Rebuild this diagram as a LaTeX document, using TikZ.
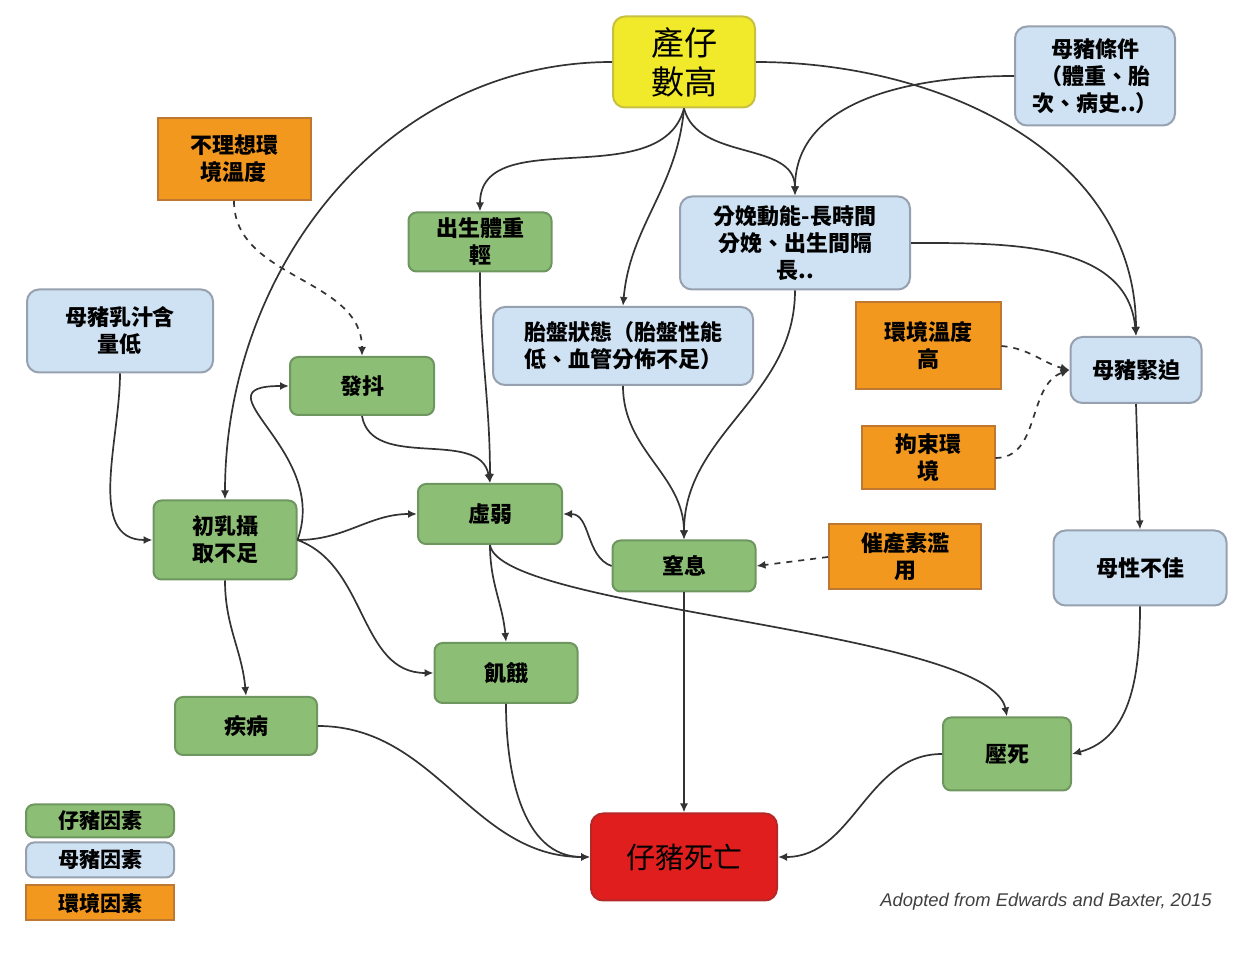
\documentclass[tikz,border=0pt]{standalone}
\usepackage{fontspec}
\newfontfamily\cjk{Noto Sans CJK TC}
\newfontfamily\creditfont{Liberation Sans}
\usetikzlibrary{arrows.meta}

\definecolor{pigfill}{HTML}{8DBE76}
\definecolor{pigline}{HTML}{6E965F}
\definecolor{sowfill}{HTML}{CFE2F3}
\definecolor{sowline}{HTML}{96A0AF}
\definecolor{envfill}{HTML}{F3981E}
\definecolor{envline}{HTML}{BE7832}
\definecolor{topfill}{HTML}{F0EA2A}
\definecolor{topline}{HTML}{C8C040}
\definecolor{deathfill}{HTML}{E11E1E}
\definecolor{deathline}{HTML}{B42828}
\definecolor{linkgray}{HTML}{333333}

\tikzset{
  factor/.style={draw, line width=1pt, align=center, inner sep=0pt,
    font=\cjk\bfseries\fontsize{11}{13.5}\selectfont},
  piglet/.style={factor, fill=pigfill, draw=pigline, rounded corners=4pt},
  sow/.style={factor, fill=sowfill, draw=sowline, rounded corners=6pt},
  envir/.style={factor, fill=envfill, draw=envline},
  link/.style={draw=linkgray, line width=0.85pt, -{Latex[length=4.5pt,width=4pt]}},
  envlink/.style={link, dashed}
}

\begin{document}
\begin{tikzpicture}[x=0.5pt,y=0.5pt]
  \useasboundingbox (0,0) rectangle (1244,-967);

  % Main cause and outcome
  \node[factor, fill=topfill, draw=topline, rounded corners=6pt, minimum width=71pt, minimum height=45.5pt,
    font=\cjk\fontsize{16.5}{19.5}\selectfont] (litter) at (684,-62) {產仔\\數高};
  \node[factor, fill=deathfill, draw=deathline, rounded corners=6pt, minimum width=93pt, minimum height=43.5pt,
    font=\cjk\fontsize{14.5}{17}\selectfont] (death) at (684,-857) {仔豬死亡};

  % Sow factors
  \node[sow, minimum width=80pt, minimum height=49.5pt] (sowcond) at (1095,-76) {母豬條件\\（體重、胎\\次、病史..）};
  \node[sow, minimum width=115pt, minimum height=46.5pt] (labor) at (795,-243) {分娩動能-長時間\\分娩、出生間隔\\長..};
  \node[sow, minimum width=93pt, minimum height=41.5pt] (milk) at (120,-331) {母豬乳汁含\\量低};
  \node[sow, minimum width=130pt, minimum height=39pt] (placenta) at (623,-346) {胎盤狀態（胎盤性能\\低、血管分佈不足）};
  \node[sow, minimum width=65.5pt, minimum height=33pt] (stress) at (1136,-370) {母豬緊迫};
  \node[sow, minimum width=86.5pt, minimum height=37.5pt] (maternal) at (1140,-568) {母性不佳};

  % Environment factors
  \node[envir, minimum width=76.5pt, minimum height=41pt] (cold) at (234,-159) {不理想環\\境溫度};
  \node[envir, minimum width=72.5pt, minimum height=43.5pt] (hot) at (928,-346) {環境溫度\\高};
  \node[envir, minimum width=66.5pt, minimum height=31.5pt] (confine) at (928,-458) {拘束環\\境};
  \node[envir, minimum width=76pt, minimum height=32.5pt] (oxy) at (905,-557) {催產素濫\\用};

  % Piglet factors
  \node[piglet, minimum width=71.5pt, minimum height=29.5pt] (lbw) at (480,-242) {出生體重\\輕};
  \node[piglet, minimum width=72pt, minimum height=29pt] (shiver) at (362,-386) {發抖};
  \node[piglet, minimum width=71.5pt, minimum height=39.5pt] (colost) at (225,-540) {初乳攝\\取不足};
  \node[piglet, minimum width=72pt, minimum height=30pt] (weak) at (490,-514) {虛弱};
  \node[piglet, minimum width=71.5pt, minimum height=25.5pt] (asphyx) at (684,-566) {窒息};
  \node[piglet, minimum width=71.5pt, minimum height=30pt] (starve) at (506,-673) {飢餓};
  \node[piglet, minimum width=71pt, minimum height=29pt] (disease) at (246,-726) {疾病};
  \node[piglet, minimum width=64pt, minimum height=36.5pt] (crush) at (1007,-754) {壓死};

  % Links from litter size
  \draw[link] (litter.west) to[out=180,in=90] (colost.north);
  \draw[link] (litter.east) to[out=0,in=90] (stress.north);
  \draw[link] (litter.south) to[out=-105,in=90] (lbw.north);
  \draw[link] (litter.south) to[out=-95,in=85] (placenta.north);
  \draw[link] (litter.south) to[out=-75,in=90] (labor.north);

  % Sow links
  \draw[link] (sowcond.west) to[out=180,in=90] (labor.north);
  \draw[link] (labor.east) to[out=0,in=95] (stress.north);
  \draw[link] (labor.south) to[out=-90,in=90] (asphyx.north);
  \draw[link] (placenta.south) to[out=-90,in=90] (asphyx.north);
  \draw[link] (milk.south) to[out=-90,in=180] (colost.west);
  \draw[link] (stress.south) -- (maternal.north);
  \draw[link] (maternal.south) to[out=-90,in=15] (crush.east);

  % Environment links
  \draw[envlink] (cold.south) to[out=-90,in=90] (shiver.north);
  \draw[envlink] (hot.east) to[out=-5,in=165] (stress.west);
  \draw[envlink] (confine.east) to[out=0,in=200] (stress.west);
  \draw[envlink] (oxy.west) -- (asphyx.east);

  % Piglet links
  \draw[link] (lbw.south) to[out=-90,in=90] (weak.north);
  \draw[link] (shiver.south) to[out=-80,in=100] (weak.north);
  \draw[link] (colost.east) to[out=70,in=180,looseness=1.6] (shiver.west);
  \draw[link] (colost.east) to[out=0,in=180] (weak.west);
  \draw[link] (colost.east) to[out=-20,in=180] (starve.west);
  \draw[link] (colost.south) to[out=-90,in=95] (disease.north);
  \draw[link] (asphyx.west) to[out=160,in=0] (weak.east);
  \draw[link] (weak.south) to[out=-90,in=95] (starve.north);
  \draw[link] (weak.south) .. controls (500,-610) and (990,-630) .. (crush.north);

  % Links to death
  \draw[link] (asphyx.south) -- (death.north);
  \draw[link] (disease.east) to[out=0,in=180] (death.west);
  \draw[link] (starve.south) to[out=-90,in=180] (death.west);
  \draw[link] (crush.west) to[out=180,in=0] (death.east);

  % Legend
  \node[piglet, minimum width=74pt, minimum height=16.5pt, font=\cjk\bfseries\fontsize{10.5}{12}\selectfont] (keypig) at (100,-821) {仔豬因素};
  \node[sow, rounded corners=4pt, minimum width=74pt, minimum height=17.5pt, font=\cjk\bfseries\fontsize{10.5}{12}\selectfont] (keysow) at (100,-860) {母豬因素};
  \node[envir, minimum width=74pt, minimum height=17.5pt, font=\cjk\bfseries\fontsize{10.5}{12}\selectfont] (keyenv) at (100,-903) {環境因素};

  % Source
  \node[font=\creditfont\itshape\fontsize{9.2}{11}\selectfont, text=black!75] (credit) at (1046,-902) {Adopted from Edwards and Baxter, 2015};
\end{tikzpicture}
\end{document}
